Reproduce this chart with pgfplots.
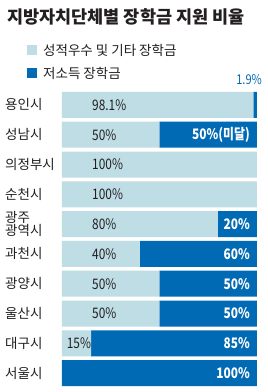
\documentclass[border=0pt]{standalone}
\usepackage{fontspec}
\setmainfont{Noto Sans CJK KR}
\usepackage{pgfplots}
\pgfplotsset{compat=1.18}
\definecolor{lightbar}{RGB}{190,221,229}
\definecolor{darkbar}{RGB}{0,106,180}
\definecolor{txt}{RGB}{35,31,32}
\newcommand{\nm}[1]{\scalebox{0.82}[1]{\fontsize{14.5}{16}\selectfont #1}}
\begin{document}
\begin{tikzpicture}[x=1pt,y=1pt,
  lt/.style={anchor=west, inner sep=0pt, text=txt},
  dk/.style={anchor=east, inner sep=0pt, text=white, font=\bfseries}]
\path[use as bounding box, fill=white] (0,0) rectangle (268,392);
\node[anchor=west, inner sep=0pt, text=txt, font=\bfseries\fontsize{17.5}{20}\selectfont] at (7,375.5) {지방자치단체별 장학금 지원 비율};
\fill[lightbar] (27,336.5) rectangle (37,346.5);
\node[anchor=west, inner sep=0pt, text=txt, font=\fontsize{13.5}{16}\selectfont] at (43,341.5) {성적우수 및 기타 장학금};
\fill[darkbar] (27,314) rectangle (37,324);
\node[anchor=west, inner sep=0pt, text=txt, font=\fontsize{13.5}{16}\selectfont] at (43,319) {저소득 장학금};
\begin{axis}[
  at={(62pt,4pt)}, anchor=south west,
  scale only axis, width=195pt, height=298pt,
  xbar stacked, bar width=26pt,
  xmin=0, xmax=100, ymin=-0.5, ymax=9.5, y dir=reverse,
  axis line style={draw=none}, tick style={draw=none},
  xtick=\empty, ytick={0,...,9},
  yticklabels={용인시,성남시,의정부시,순천시,{광주\\광역시},과천시,광양시,울산시,대구시,서울시},
  yticklabel style={anchor=west, xshift=-57pt, inner sep=0pt, align=left, text=txt, font=\fontsize{13.5}{13}\selectfont},
  clip=false,
]
\addplot[fill=lightbar, draw=none] coordinates {(98.1,0) (50,1) (100,2) (100,3) (80,4) (40,5) (50,6) (50,7) (15,8) (0,9)};
\addplot[fill=darkbar, draw=none] coordinates {(1.9,0) (50,1) (0,2) (0,3) (20,4) (60,5) (50,6) (50,7) (85,8) (100,9)};
\coordinate (L0) at (axis cs:15.4,0);
\coordinate (L1) at (axis cs:15.4,1);
\coordinate (L2) at (axis cs:15.4,2);
\coordinate (L3) at (axis cs:15.4,3);
\coordinate (L4) at (axis cs:15.4,4);
\coordinate (L5) at (axis cs:15.4,5);
\coordinate (L6) at (axis cs:15.4,6);
\coordinate (L7) at (axis cs:15.4,7);
\coordinate (L8) at (axis cs:2.4,8);
\coordinate (D1) at (axis cs:96.4,1);
\coordinate (D4) at (axis cs:96.4,4);
\coordinate (D5) at (axis cs:96.4,5);
\coordinate (D6) at (axis cs:96.4,6);
\coordinate (D7) at (axis cs:96.4,7);
\coordinate (D8) at (axis cs:96.4,8);
\coordinate (D9) at (axis cs:96.4,9);
\coordinate (T0) at (axis cs:102.6,-0.5);
\end{axis}
\node[lt] at (L0) {\nm{98.1\%}};
\node[lt] at (L1) {\nm{50\%}};
\node[lt] at (L2) {\nm{100\%}};
\node[lt] at (L3) {\nm{100\%}};
\node[lt] at (L4) {\nm{80\%}};
\node[lt] at (L5) {\nm{40\%}};
\node[lt] at (L6) {\nm{50\%}};
\node[lt] at (L7) {\nm{50\%}};
\node[lt] at (L8) {\nm{15\%}};
\node[dk] at (D1) {\nm{\bfseries 50\%(미달)}};
\node[dk] at (D4) {\nm{\bfseries 20\%}};
\node[dk] at (D5) {\nm{\bfseries 60\%}};
\node[dk] at (D6) {\nm{\bfseries 50\%}};
\node[dk] at (D7) {\nm{\bfseries 50\%}};
\node[dk] at (D8) {\nm{\bfseries 85\%}};
\node[dk] at (D9) {\nm{\bfseries 100\%}};
\node[anchor=east, inner sep=0pt, text=darkbar, yshift=10pt] at (T0) {\scalebox{0.82}[1]{\fontsize{13.5}{15}\selectfont 1.9\%}};
\end{tikzpicture}
\end{document}
